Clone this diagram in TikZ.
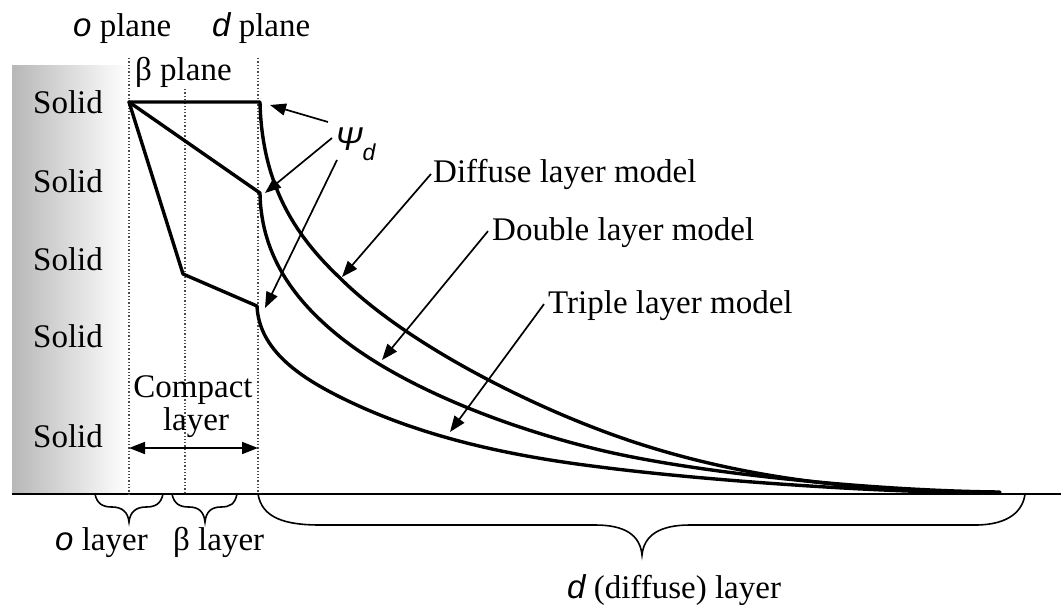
\documentclass[tikz,border=0pt]{standalone}
\usepackage{fontspec}
\setmainfont{Liberation Serif}
\newfontfamily\sansfam{Liberation Sans}
\newcommand\myit[1]{{\sansfam\itshape #1}}
\usetikzlibrary{arrows.meta}
\tikzset{
  curve/.style={line width=3.4pt, line join=round, line cap=round},
  ptr/.style={line width=1.7pt, -{Triangle[length=16pt,width=12pt]}},
  dptr/.style={line width=1.7pt, {Triangle[length=16pt,width=12pt]}-{Triangle[length=16pt,width=12pt]}},
  planeline/.style={dotted, line width=1.3pt, black!70},
  txt/.style={inner sep=0, anchor=base west, font=\fontsize{33}{40}\selectfont},
  bracepath/.style={line width=1.6pt},
}
\begin{document}
\begin{tikzpicture}[x=1pt,y=-1pt]
\useasboundingbox (0,0) rectangle (1061,605);
% solid region
\shade[left color=black!28, right color=white] (12,65) rectangle (128,494);
% baseline
\draw[line width=1.8pt] (12,494) -- (1061,494);
% planes
\draw[planeline] (129,58) -- (129,494);
\draw[planeline] (185,89) -- (185,494);
\draw[planeline] (258,58) -- (258,494);
% plane labels
\node[txt] (oplane) at (73,36) {\myit{o} plane};
\node[txt] (dplane) at (212,36) {\myit{d} plane};
\node[txt] (bplane) at (135,80) {β plane};
% Solid labels
\foreach \y/\n in {113/s1,192/s2,270/s3,347/s4,447/s5}
  \node[txt] (\n) at (33,\y) {Solid};
% diffuse layer model curve
\draw[curve] (129,102) -- (260,102)
  .. controls (262,190) and (300,240) .. (340,278)
  .. controls (400,338) and (510,396) .. (600,430)
  .. controls (700,468) and (808,486) .. (918,490);
% double layer model curve
\draw[curve] (129,102) -- (260,193)
  .. controls (261,260) and (300,305) .. (340,337)
  .. controls (400,385) and (500,426) .. (600,450)
  .. controls (700,474) and (880,491) .. (1000,492);
% triple layer model curve
\draw[curve] (129,102) -- (183,274) -- (257,306)
  .. controls (259,350) and (300,377) .. (340,397)
  .. controls (420,437) and (510,456) .. (600,467)
  .. controls (700,480) and (880,493) .. (1000,493);
% Psi_d
\node[txt] (psi) at (335,150) {\myit{Ψ}\raisebox{-10pt}{\fontsize{23}{23}\selectfont\myit{d}}};
\coordinate (psiA) at (328,122);
\coordinate (psiB) at (332,138);
\coordinate (psiC) at (337,160);
\coordinate (tipA) at (270,105);
\coordinate (tipB) at (265,193);
\coordinate (tipC) at (265,308);
\draw[ptr] (psiA) -- (tipA);
\draw[ptr] (psiB) -- (tipB);
\draw[ptr] (psiC) -- (tipC);
% model labels
\node[txt] (dl) at (433,182) {Diffuse layer model};
\node[txt] (dbl) at (492,240) {Double layer model};
\node[txt] (tl) at (548,313) {Triple layer model};
\coordinate (tipD) at (342,277);
\coordinate (tipDb) at (382,360);
\coordinate (tipT) at (450,432);
\draw[ptr] ([xshift=-2pt]dl.west) -- (tipD);
\draw[ptr] ([xshift=-4pt,yshift=1pt]dbl.west) -- (tipDb);
\draw[ptr] ([xshift=-4pt,yshift=1pt]tl.west) -- (tipT);
% compact layer
\node[txt, anchor=base] (comp) at (193,397) {Compact};
\node[txt, anchor=base] (lay) at (196,430) {layer};
\coordinate (cL) at (129,448);
\coordinate (cR) at (258,448);
\draw[dptr] (cL) -- (cR);
% braces
\draw[bracepath] (95,494) .. controls (97,504) and (103,507) .. (112,507)
  .. controls (122,507) and (128,512) .. (129,522)
  .. controls (130,512) and (136,507) .. (146,507)
  .. controls (155,507) and (161,504) .. (163,494);
\draw[bracepath] (172,494) .. controls (174,504) and (180,507) .. (189,507)
  .. controls (199,507) and (204,512) .. (205,522)
  .. controls (206,512) and (211,507) .. (221,507)
  .. controls (230,507) and (235,504) .. (237,494);
\draw[bracepath] (258,494) .. controls (262,518) and (285,525) .. (320,525)
  -- (595,525) .. controls (625,525) and (640,535) .. (642,555)
  .. controls (644,535) and (660,525) .. (690,525)
  -- (975,525) .. controls (1010,525) and (1023,510) .. (1025,494);
\node[txt] (olay) at (55,550) {\myit{o} layer};
\node[txt] (blay) at (173,550) {β layer};
\node[txt] (dlay) at (567,598) {\myit{d} (diffuse) layer};
\end{tikzpicture}
\end{document}
